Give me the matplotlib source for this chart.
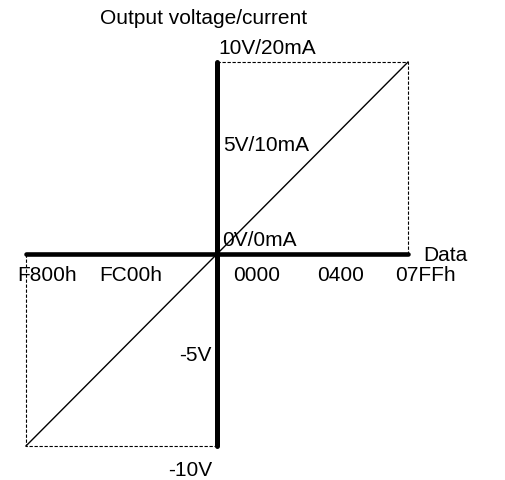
import matplotlib.pyplot as plt

plt.rcParams['font.family'] = ['Liberation Sans', 'DejaVu Sans']

# --- Data ---
data_codes = [-2048, 2047]          # F800h .. 07FFh
output_volts = [-10, 10]            # -10V .. 10V
x_tick_labels = ["F800h", "FC00h", "0000", "0400", "07FFh"]
y_tick_labels = ["10V/20mA", "5V/10mA", "0V/0mA", "-5V", "-10V"]

fig = plt.figure(figsize=(5.06, 4.80), dpi=100)
ax = fig.add_axes([0, 0, 1, 1])
ax.set_xlim(-2326, 3097)
ax.set_ylim(-11.77, 13.23)
ax.axis("off")

xmin, xmax = data_codes
ymin, ymax = output_volts

# dashed guide box
ax.plot([0, xmax, xmax], [ymax, ymax, 0], color="black", lw=0.8, ls=(0, (3, 1.5)))
ax.plot([xmin, xmin, 0], [0, ymin, ymin], color="black", lw=0.8, ls=(0, (3, 1.5)))

# axes
ax.plot([xmin, xmax], [0, 0], color="black", lw=3.3, solid_capstyle="round")
ax.plot([0, 0], [ymin, ymax], color="black", lw=3.6, solid_capstyle="round")

# conversion characteristic
ax.plot(data_codes, output_volts, color="black", lw=1)

fs = 15
# x labels
ax.text(-2144, -1.1, x_tick_labels[0], ha="left", va="center", fontsize=fs)
ax.text(-922, -1.1, x_tick_labels[1], ha="center", va="center", fontsize=fs)
ax.text(420, -1.1, x_tick_labels[2], ha="center", va="center", fontsize=fs)
ax.text(1320, -1.1, x_tick_labels[3], ha="center", va="center", fontsize=fs)
ax.text(2230, -1.1, x_tick_labels[4], ha="center", va="center", fontsize=fs)
ax.text(2444, -0.1, "Data", ha="center", va="center", fontsize=fs)

# y labels
ax.text(10, 10.68, y_tick_labels[0], ha="left", va="center", fontsize=fs)
ax.text(64, 5.63, y_tick_labels[1], ha="left", va="center", fontsize=fs)
ax.text(54, 0.73, y_tick_labels[2], ha="left", va="center", fontsize=fs)
ax.text(-54, -5.26, y_tick_labels[3], ha="right", va="center", fontsize=fs)
ax.text(-54, -11.3, y_tick_labels[4], ha="right", va="center", fontsize=fs)

ax.text(-1250, 12.29, "Output voltage/current", ha="left", va="center", fontsize=fs)

fig.savefig("out.png", dpi=100)
